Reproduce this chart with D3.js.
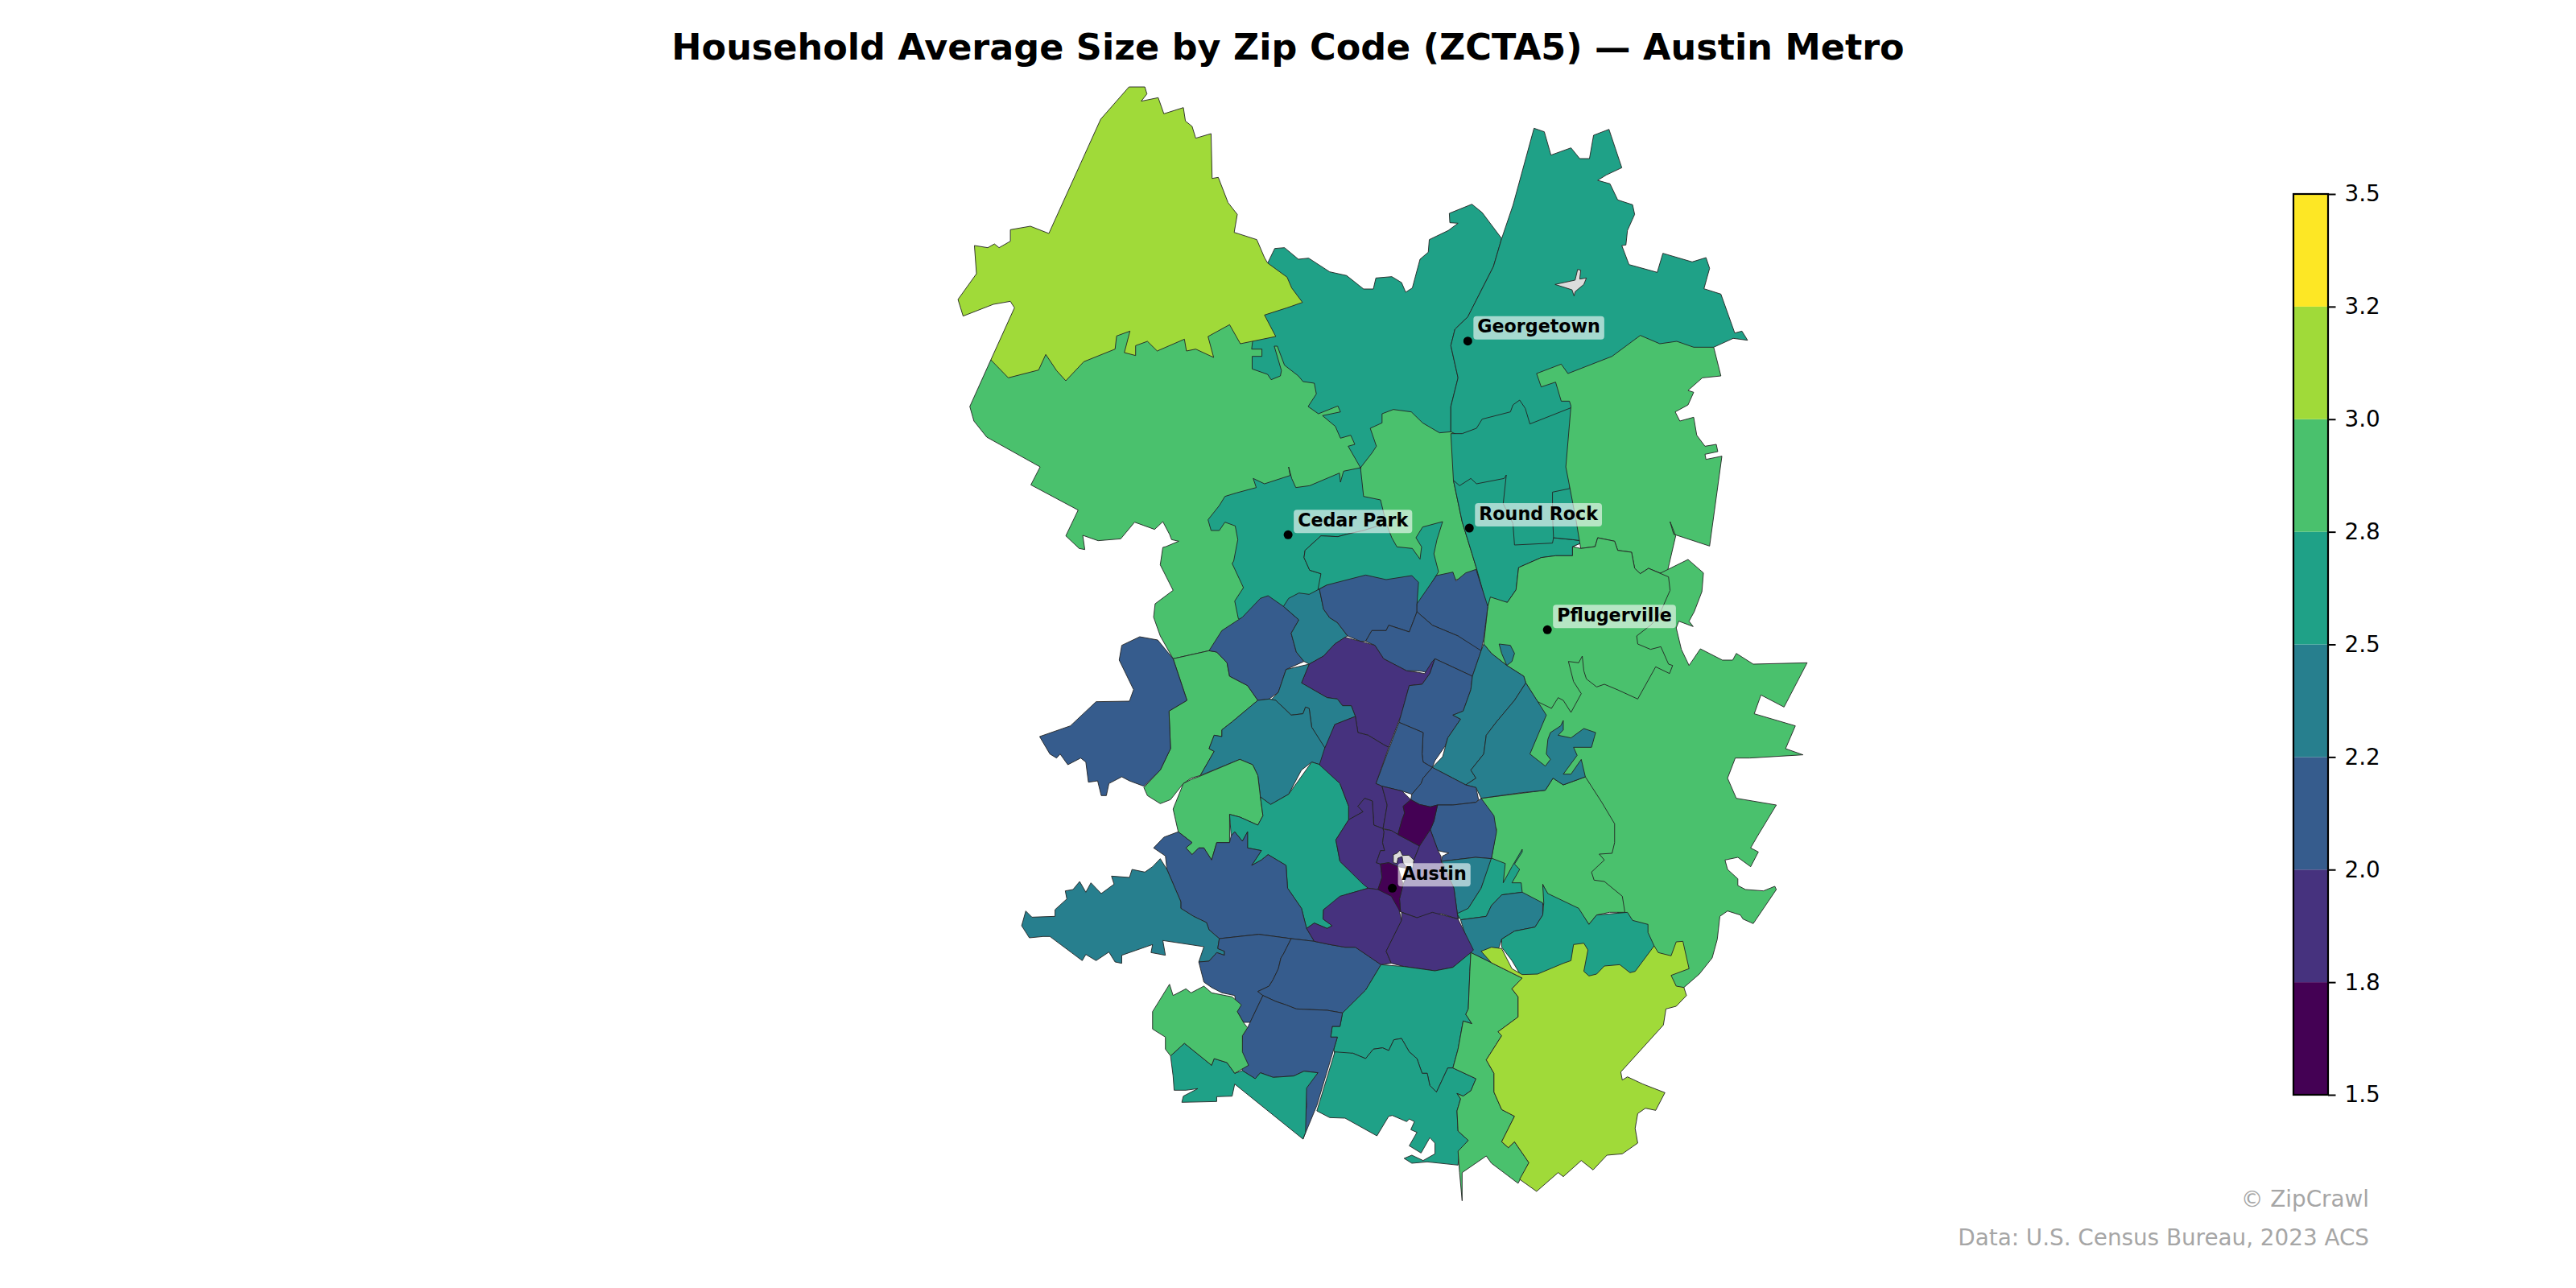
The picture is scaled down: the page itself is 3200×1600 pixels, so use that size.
<!DOCTYPE html>
<html lang="en">
<head>
<meta charset="utf-8">
<title>Household Average Size by Zip Code</title>
<script src="https://d3js.org/d3.v7.min.js"></script>
<style>
    body { margin: 0; background: #fff; }
    text { font-family: "DejaVu Sans", sans-serif; }
</style>
</head>
<body>
<svg id="mainsvg" width="3200" height="1600"></svg>
<script>
// colour bins
const binEdges = [1.5, 1.75, 2, 2.25, 2.5, 2.75, 3, 3.25, 3.5];
const binLabels = ['1.5', '1.8', '2.0', '2.2', '2.5', '2.8', '3.0', '3.2', '3.5'];
const binColors = ['#440154', '#46327e', '#365c8d', '#277f8e', '#1fa187', '#4ac16d', '#a0da39', '#fde725'];

// estimated household size per area, same order as areaRings (null = no data)
const areaSizes = [
    2.88, 2.85, 2.62, 2.64, 2.66, 3.1,
    2.7, 2.65, 2.68, 2.6, 2.85, 2.9, 2.88, 2.86,
    2.82, 2.1, 2.15, 2.4, 2.12, 2.15, 2.1, 1.9, 2.4, 2.35, 2.9, 2.6,
    2.1, 2.4, 2.35, 2.4, 2.1, 2.15, 2.2, 2.35, 2.6, 2.4, 2.62,
    1.9, 1.92, 1.85, 1.9, 1.7, 1.88, 1.65, null,
    2.1, 2.4, 2.1, 2.15, 1.9, 1.88, 2.6, 2.62, 2.15, 2.6, 2.85, 2.88, 3.1, null
];

// area outlines in map units; later areas paint over earlier ones
const areaRings = [
    [[-30,-699],[-71,-525],[-63,-471],[-38,-411],[66,-300],[48,-233],[140,-139],[116,-43],[142,4],[153,8],[149,-45],[179,-25],[223,-32],[250,-94],[289,-67],[305,-96],[318,-49],[322,-29],[336,-23],[311,-3],[305,0],[300,65],[325,160],[290,210],[287,260],[300,330],[325,415],[395,385],[420,330],[470,260],[560,100],[600,-100],[690,-300],[720,-500],[550,-780],[400,-850],[200,-850]],
    [[700,-560],[950,-560],[950,120],[840,120],[700,120],[660,-100],[680,-280],[690,-290],[695,-340]],
    [[506,-1047],[523,-1114],[542,-1117],[569,-1074],[589,-1078],[630,-1027],[663,-1013],[696,-963],[715,-963],[720,-1004],[751,-1009],[770,-987],[778,-951],[791,-967],[806,-1074],[822,-1100],[824,-1147],[861,-1181],[880,-1208],[864,-1210],[863,-1245],[907,-1279],[927,-1248],[965,-1151],[949,-1047],[899,-859],[874,-813],[866,-752],[880,-632],[866,-525],[866,-431],[844,-427],[811,-464],[789,-505],[754,-514],[732,-498],[732,-464],[709,-444],[721,-377],[712,-351],[690,-297],[666,-377],[679,-384],[671,-418],[651,-407],[641,-451],[616,-491],[651,-505],[646,-527],[608,-498],[588,-525],[604,-572],[600,-612],[578,-618],[569,-639],[542,-679],[528,-750],[522,-750],[536,-659],[534,-639],[516,-625],[509,-645],[479,-665],[479,-712],[498,-712],[498,-739],[478,-739],[481,-786],[480,-880],[540,-950]],
    [[690,-297],[657,-284],[651,-243],[649,-277],[591,-230],[564,-223],[556,-257],[550,-300],[553,-268],[503,-237],[481,-257],[487,-223],[448,-203],[426,-190],[415,-156],[393,-103],[399,-63],[415,-63],[426,-94],[446,-80],[451,-29],[443,51],[440,60],[462,150],[445,200],[452,265],[480,300],[560,280],[620,200],[613,98],[591,85],[580,38],[582,11],[613,-43],[646,-40],[663,-49],[696,-63],[740,-90],[729,-177],[696,-190]],
    [[580,38],[582,11],[613,-43],[646,-40],[663,-49],[696,-63],[740,-90],[751,-36],[761,-2],[791,4],[806,44],[809,-2],[798,-36],[811,-76],[850,-96],[839,-29],[833,24],[842,91],[800,220],[700,130],[625,140],[607,158],[613,98],[591,85]],
    [[239,-1716],[270,-1716],[274,-1690],[263,-1663],[296,-1676],[307,-1616],[345,-1639],[349,-1589],[362,-1569],[369,-1525],[399,-1542],[401,-1375],[413,-1379],[432,-1285],[450,-1241],[444,-1174],[488,-1147],[503,-1080],[509,-1060],[547,-1007],[556,-967],[577,-913],[547,-893],[503,-866],[525,-786],[456,-759],[435,-830],[393,-786],[404,-708],[369,-739],[351,-732],[347,-776],[294,-732],[275,-768],[252,-752],[252,-715],[230,-726],[241,-806],[215,-788],[212,-739],[151,-692],[116,-621],[98,-659],[77,-719],[63,-661],[4,-632],[-30,-699],[16,-893],[8,-917],[-25,-906],[-84,-862],[-94,-924],[-58,-1020],[-62,-1125],[-36,-1117],[-23,-1131],[-14,-1117],[8,-1141],[8,-1184],[47,-1197],[83,-1170],[184,-1596]],

    [[1028,-1562],[1048,-1549],[1061,-1462],[1100,-1489],[1117,-1449],[1136,-1449],[1144,-1536],[1174,-1558],[1199,-1415],[1169,-1388],[1152,-1368],[1176,-1355],[1191,-1295],[1220,-1277],[1224,-1241],[1210,-1181],[1207,-1127],[1199,-1125],[1213,-1054],[1268,-1025],[1279,-1096],[1336,-1064],[1363,-1080],[1370,-1040],[1359,-964],[1392,-944],[1419,-799],[1433,-806],[1444,-772],[1416,-779],[1378,-746],[1300,-600],[1150,-500],[1100,-400],[900,-400],[866,-431],[866,-525],[880,-632],[866,-752],[874,-813],[899,-859],[949,-1047],[965,-1151],[987,-1275]],
    [[866,-424],[888,-424],[916,-444],[927,-478],[982,-505],[987,-531],[1000,-549],[1011,-518],[1020,-460],[1114,-531],[1130,-444],[1125,-431],[1132,-377],[1117,-375],[1119,-290],[1100,-250],[1097,-223],[1130,-230],[1139,-177],[1128,-163],[1128,-23],[1103,-3],[1103,31],[1070,31],[1042,38],[998,75],[993,158],[976,205],[945,195],[936,222],[925,140],[916,78],[888,-96],[871,-250]],
    [[871,-250],[883,-230],[905,-257],[916,-237],[970,-257],[974,-270],[968,-163],[987,-89],[990,-9],[1064,-16],[1066,-36],[1103,-29],[1128,-23],[1103,-3],[1103,31],[1070,31],[1042,38],[998,75],[993,158],[976,205],[945,195],[936,222],[925,140],[916,78],[888,-96]],
    [[1064,-206],[1124,-230],[1130,-230],[1139,-177],[1128,-163],[1128,-23],[1103,-29],[1066,-36],[1064,-120]],
    [[1033,-648],[1081,-683],[1094,-648],[1180,-712],[1235,-790],[1273,-759],[1306,-768],[1339,-746],[1378,-746],[1392,-639],[1356,-632],[1328,-585],[1339,-578],[1328,-531],[1303,-505],[1312,-471],[1339,-485],[1345,-418],[1361,-377],[1383,-384],[1386,-357],[1361,-347],[1363,-328],[1394,-340],[1370,-5],[1300,-49],[1293,-96],[1304,-43],[1286,105],[1251,78],[1235,98],[1224,78],[1218,18],[1191,11],[1185,-23],[1152,-36],[1147,-3],[1119,4],[1110,-100],[1090,-300],[1100,-527],[1097,-545],[1081,-545],[1070,-616],[1042,-598]],
    [[1270,100],[1328,45],[1358,95],[1355,165],[1340,240],[1330,275],[1338,295],[1310,275],[1305,300],[1315,380],[1330,440],[1352,378],[1395,420],[1415,420],[1422,395],[1455,435],[1560,430],[1515,595],[1470,550],[1457,620],[1537,665],[1518,750],[1552,773],[1448,785],[1420,785],[1405,860],[1422,935],[1500,960],[1462,1080],[1450,1120],[1465,1135],[1450,1190],[1425,1155],[1400,1165],[1405,1200],[1425,1235],[1425,1260],[1440,1275],[1475,1280],[1497,1263],[1500,1275],[1455,1402],[1435,1385],[1430,1370],[1405,1355],[1390,1375],[1385,1460],[1375,1530],[1350,1590],[1320,1640],[1300,1650],[1280,1550],[1240,1420],[1205,1385],[1130,1250],[1100,1100],[1040,950],[1000,800],[1000,600],[1060,520],[1090,400]],
    [[943,185],[976,205],[993,158],[998,75],[1042,38],[1070,31],[1103,31],[1103,-3],[1119,4],[1147,-3],[1152,-36],[1185,-23],[1191,11],[1218,18],[1224,78],[1235,98],[1251,78],[1290,110],[1293,160],[1270,260],[1255,290],[1228,330],[1230,360],[1255,380],[1275,370],[1290,435],[1298,440],[1292,470],[1265,445],[1230,565],[1190,530],[1165,510],[1150,520],[1130,490],[1125,460],[1122,405],[1115,430],[1095,425],[1105,500],[1120,545],[1100,615],[1085,570],[1075,560],[1062,600],[1035,575],[1012,505],[1008,480],[975,440],[945,395],[930,360],[938,220]],
    [[925,935],[1050,905],[1065,860],[1085,885],[1128,855],[1160,950],[1185,1030],[1185,1100],[1180,1140],[1155,1143],[1165,1165],[1140,1210],[1145,1240],[1165,1245],[1200,1300],[1205,1360],[1175,1360],[1150,1370],[1135,1405],[1115,1350],[1055,1295],[1045,1255],[1050,1330],[1020,1330],[1000,1310],[960,1295],[945,1160],[955,1050]],

    [[325,415],[395,385],[410,390],[430,430],[435,480],[470,515],[490,570],[440,650],[420,680],[420,705],[405,700],[395,750],[405,760],[378,850],[360,860],[345,880],[320,940],[300,955],[275,925],[268,895],[300,830],[320,750],[317,610],[352,570]],
    [[325,415],[352,570],[317,610],[320,750],[300,830],[268,890],[240,870],[225,855],[200,880],[195,925],[185,925],[178,870],[160,875],[155,800],[145,785],[120,810],[105,770],[98,785],[85,770],[65,705],[125,665],[175,575],[240,573],[248,530],[220,420],[225,365],[260,333],[295,345]],
    [[510,180],[540,220],[570,270],[555,320],[565,390],[580,425],[545,455],[530,540],[512,565],[490,570],[470,515],[435,480],[430,430],[410,390],[395,385],[420,310],[460,260],[495,190]],
    [[540,220],[550,190],[570,170],[590,175],[610,155],[618,230],[630,262],[645,280],[665,330],[660,335],[640,360],[618,405],[590,435],[580,425],[565,390],[555,320],[570,270]],
    [[610,155],[625,140],[700,103],[740,120],[790,105],[803,130],[800,210],[800,240],[785,315],[770,305],[745,290],[740,310],[712,310],[700,350],[690,350],[665,330],[645,280],[630,262],[618,230]],
    [[800,210],[838,105],[870,92],[876,125],[895,95],[915,82],[938,220],[930,340],[925,385],[908,370],[880,330],[830,290],[800,240]],
    [[700,350],[712,310],[740,310],[745,290],[785,315],[800,240],[830,290],[880,330],[925,385],[908,480],[835,415],[828,470],[810,462],[800,460],[780,460],[735,415],[718,365]],
    [[660,335],[690,350],[718,365],[735,415],[780,460],[800,465],[815,470],[830,425],[835,415],[825,470],[810,510],[785,515],[770,620],[745,745],[735,735],[705,700],[685,690],[680,630],[672,590],[655,590],[645,565],[625,560],[575,505],[590,435],[618,405],[640,360]],
    [[545,455],[590,435],[575,505],[625,560],[645,565],[655,590],[672,590],[680,630],[640,660],[622,755],[595,670],[590,600],[583,595],[578,620],[555,625],[525,570],[510,580],[530,540]],
    [[490,570],[512,565],[525,570],[555,625],[578,620],[583,595],[590,600],[595,670],[625,760],[612,810],[595,800],[575,830],[550,920],[515,958],[495,930],[490,850],[480,810],[455,790],[378,850],[405,760],[395,750],[405,700],[420,705],[420,680],[440,650]],
    [[360,865],[378,852],[455,790],[480,810],[490,850],[495,930],[500,1000],[490,1035],[455,1005],[435,995],[435,1100],[410,1100],[400,1165],[385,1120],[375,1120],[362,1145],[350,1120],[362,1100],[335,1060],[325,975],[345,880]],
    [[595,800],[612,810],[650,880],[667,965],[667,1015],[642,1090],[650,1170],[705,1270],[660,1295],[618,1350],[617,1385],[635,1410],[625,1420],[600,1400],[585,1420],[575,1345],[548,1270],[545,1185],[510,1145],[497,1165],[478,1185],[497,1130],[470,1120],[470,1060],[460,1095],[445,1060],[438,1075],[435,995],[455,1005],[490,1035],[500,1000],[495,930],[515,958],[550,920]],

    [[835,415],[908,480],[905,530],[890,610],[870,625],[885,640],[860,710],[855,740],[835,795],[830,820],[812,800],[810,770],[812,690],[765,652],[785,515],[810,510],[825,470]],
    [[925,385],[930,360],[945,395],[975,440],[1008,480],[1012,505],[990,570],[955,650],[935,700],[930,770],[905,830],[915,860],[895,885],[870,860],[830,820],[850,780],[860,710],[885,640],[870,625],[890,610],[905,530],[908,480]],
    [[1012,505],[1052,625],[1020,770],[1050,815],[1060,790],[1052,770],[1055,715],[1060,690],[1080,665],[1085,645],[1085,680],[1075,700],[1100,710],[1125,675],[1148,690],[1140,745],[1105,745],[1112,775],[1085,845],[1100,845],[1120,790],[1128,855],[1085,885],[1065,860],[1050,905],[1000,915],[925,935],[915,895],[895,885],[915,860],[905,830],[930,770],[935,700],[955,650],[990,570]],
    [[960,360],[982,365],[990,395],[985,425],[975,440],[965,395]],
    [[720,880],[765,652],[812,690],[810,770],[812,800],[830,820],[812,860],[808,880],[790,920],[771,908],[732,890]],
    [[830,820],[870,860],[895,885],[915,895],[920,940],[915,950],[870,960],[840,960],[826,967],[805,958],[788,940],[790,920],[808,880],[812,860]],
    [[840,960],[870,960],[915,950],[925,935],[950,1000],[955,1060],[945,1160],[914,1155],[847,1170],[850,1150],[862,1139],[841,1130],[826,1052],[833,1020]],
    [[847,1170],[914,1155],[946,1160],[925,1270],[900,1345],[880,1385],[872,1270],[850,1175]],
    [[945,1158],[972,1178],[968,1250],[985,1190],[1005,1125],[1005,1135],[990,1180],[1000,1200],[985,1250],[1003,1250],[1005,1285],[965,1295],[945,1335],[935,1375],[885,1388],[878,1365],[900,1345],[925,1270]],
    [[885,1388],[935,1375],[945,1335],[965,1295],[1005,1285],[1045,1325],[1045,1370],[1030,1415],[990,1430],[965,1460],[960,1490],[945,1548],[905,1510]],
    [[965,1490],[965,1460],[990,1430],[1030,1415],[1045,1370],[1047,1325],[1045,1258],[1055,1290],[1115,1345],[1135,1405],[1150,1370],[1210,1360],[1220,1390],[1250,1405],[1250,1435],[1262,1485],[1230,1600],[1010,1620],[985,1540]],

    [[680,630],[640,660],[620,750],[610,810],[650,880],[667,965],[667,1015],[695,985],[685,965],[698,935],[713,945],[716,1035],[734,1048],[742,960],[732,890],[720,880],[745,745],[735,735],[705,700],[685,690]],
    [[667,1015],[642,1090],[650,1170],[695,1255],[705,1270],[724,1275],[732,1230],[729,1180],[721,1175],[729,1130],[737,1130],[733,1100],[736,1060],[734,1048],[716,1035],[713,945],[698,935],[685,965],[695,985]],
    [[732,890],[771,908],[788,940],[773,965],[776,990],[771,1015],[763,1070],[750,1055],[734,1048],[742,960]],
    [[734,1050],[750,1055],[763,1070],[805,1113],[794,1165],[792,1200],[763,1190],[745,1175],[729,1180],[721,1175],[729,1130],[737,1130],[733,1100],[736,1060]],
    [[788,940],[805,958],[826,967],[840,960],[833,1020],[826,1052],[805,1113],[763,1070],[771,1015],[776,990],[773,965]],
    [[826,1052],[841,1130],[847,1152],[847,1170],[872,1270],[880,1385],[847,1365],[800,1380],[768,1358],[766,1310],[773,1255],[794,1165],[805,1113]],
    [[729,1180],[745,1175],[763,1190],[773,1255],[766,1310],[768,1358],[758,1345],[750,1310],[724,1275],[732,1230]],
    [[754,1145],[754,1175],[761,1178],[763,1158],[771,1152],[773,1175],[779,1190],[792,1195],[794,1165],[784,1147],[772,1148],[767,1128],[761,1140]],

    [[335,1060],[362,1100],[350,1120],[362,1145],[375,1120],[385,1120],[400,1165],[410,1100],[435,1100],[438,1075],[445,1060],[460,1095],[470,1060],[470,1120],[497,1130],[478,1185],[497,1165],[510,1145],[545,1185],[548,1270],[575,1345],[585,1420],[600,1468],[555,1458],[492,1442],[415,1458],[395,1425],[390,1398],[365,1375],[340,1345],[340,1320],[313,1200],[310,1150],[287,1120],[307,1080]],
    [[313,1200],[300,1160],[285,1190],[270,1210],[245,1200],[240,1230],[205,1225],[210,1255],[185,1290],[165,1250],[155,1285],[143,1245],[130,1275],[115,1280],[118,1310],[95,1350],[95,1375],[50,1378],[38,1355],[30,1410],[45,1455],[72,1450],[85,1450],[148,1540],[155,1517],[175,1540],[200,1508],[212,1545],[225,1550],[225,1520],[285,1480],[282,1510],[310,1520],[305,1465],[385,1488],[375,1545],[395,1542],[410,1510],[425,1520],[425,1505],[412,1495],[415,1458],[395,1425],[390,1398],[365,1375],[340,1345],[340,1320]],
    [[415,1458],[492,1442],[555,1458],[540,1515],[535,1530],[530,1570],[520,1610],[512,1635],[490,1655],[500,1670],[475,1770],[462,1770],[450,1730],[445,1670],[420,1660],[400,1640],[385,1620],[375,1545],[395,1542],[410,1510],[425,1520],[425,1505],[412,1495]],
    [[555,1458],[600,1468],[630,1480],[660,1490],[680,1490],[730,1555],[700,1650],[655,1735],[625,1725],[565,1720],[545,1705],[525,1692],[500,1670],[490,1655],[512,1635],[520,1610],[530,1570],[535,1530],[540,1515]],
    [[600,1400],[625,1420],[635,1410],[617,1385],[618,1350],[650,1300],[705,1270],[724,1275],[750,1300],[765,1350],[770,1390],[740,1505],[750,1550],[730,1555],[680,1490],[660,1490],[630,1480],[600,1468],[585,1420]],
    [[770,1360],[800,1380],[830,1360],[880,1385],[910,1500],[905,1510],[870,1565],[835,1578],[775,1562],[750,1550],[740,1505],[770,1390]],
    [[730,1555],[775,1562],[835,1578],[870,1565],[905,1510],[903,1580],[900,1720],[895,1740],[907,1775],[890,1765],[880,1870],[870,1940],[860,1940],[838,2030],[825,2005],[820,1960],[810,1960],[800,1905],[785,1880],[770,1830],[755,1835],[745,1875],[733,1865],[715,1870],[700,1905],[675,1885],[640,1890],[638,1870],[645,1825],[632,1825],[635,1785],[650,1785],[655,1735],[700,1650]],
    [[640,1880],[675,1885],[700,1905],[715,1870],[733,1865],[745,1875],[755,1835],[770,1830],[785,1880],[800,1905],[810,1960],[820,1960],[825,2005],[838,2030],[860,1940],[870,1940],[915,1980],[905,2025],[890,2045],[878,2035],[885,2055],[878,2100],[880,2175],[900,2210],[882,2250],[880,2302],[820,2290],[790,2295],[775,2277],[790,2265],[812,2285],[835,2260],[835,2220],[825,2200],[808,2257],[785,2230],[800,2180],[788,2170],[795,2140],[785,2130],[780,2140],[752,2117],[745,2120],[722,2193],[660,2127],[630,2125],[605,2100]],
    [[500,1670],[525,1692],[545,1705],[565,1720],[625,1725],[655,1735],[650,1785],[635,1785],[632,1825],[645,1825],[638,1870],[605,2080],[578,2205],[585,2080],[583,2015],[607,1958],[580,1952],[560,1970],[520,1975],[495,1958],[485,1980],[460,1950],[457,1880],[460,1820],[470,1790],[475,1770]],
    [[347,1848],[400,1930],[405,1905],[430,1920],[445,1960],[460,1950],[485,1980],[495,1958],[520,1975],[560,1970],[580,1952],[607,1958],[585,2015],[583,2180],[578,2205],[445,2000],[440,2045],[410,2047],[410,2065],[342,2068],[345,2045],[373,2017],[350,2023],[327,2023],[325,1970],[320,1895]],
    [[318,1628],[325,1670],[350,1645],[360,1660],[385,1635],[400,1660],[440,1675],[458,1705],[450,1730],[462,1770],[470,1790],[460,1820],[460,1880],[472,1930],[445,1960],[430,1920],[405,1905],[400,1930],[347,1848],[320,1895],[310,1870],[310,1825],[285,1795],[285,1730]],
    [[905,1510],[1005,1605],[985,1645],[997,1675],[997,1750],[958,1805],[965,1820],[935,1910],[950,1960],[950,2030],[965,2095],[990,2120],[965,2215],[978,2237],[990,2215],[1018,2293],[997,2370],[945,2295],[935,2268],[888,2330],[888,2435],[883,2330],[880,2250],[900,2210],[880,2175],[878,2100],[885,2055],[878,2035],[890,2045],[905,2025],[915,1980],[870,1940],[880,1870],[890,1765],[907,1775],[895,1740],[900,1720],[903,1580]],
    [[925,1505],[945,1490],[965,1495],[985,1570],[1005,1592],[1035,1590],[1085,1550],[1100,1540],[1105,1480],[1125,1475],[1133,1500],[1125,1580],[1135,1597],[1150,1590],[1165,1560],[1195,1555],[1215,1585],[1225,1580],[1262,1485],[1270,1510],[1295,1522],[1305,1470],[1318,1468],[1330,1570],[1295,1595],[1305,1635],[1320,1640],[1325,1670],[1305,1710],[1285,1720],[1280,1780],[1197,1955],[1200,1985],[1210,1973],[1240,2000],[1283,2032],[1265,2098],[1245,2090],[1230,2110],[1225,2165],[1230,2220],[1200,2260],[1170,2265],[1143,2320],[1120,2285],[1085,2345],[1075,2330],[1033,2400],[1000,2355],[1018,2293],[990,2215],[978,2237],[965,2215],[990,2120],[965,2095],[950,2030],[950,1960],[935,1910],[965,1820],[958,1805],[997,1750],[997,1675],[985,1645],[1005,1605],[945,1548]],
    [[1069,-980],[1108,-996],[1113,-1036],[1119,-1033],[1117,-1000],[1130,-1004],[1125,-980],[1108,-953],[1106,-937],[1102,-960]]
];

// cities, in the same map units
const cityNames = ['Georgetown', 'Cedar Park', 'Round Rock', 'Pflugerville', 'Austin'];
const cityX = [899, 549, 902, 1054, 752];
const cityY = [-769, -47, -72, 307, 1270];

const titleText = 'Household Average Size by Zip Code (ZCTA5) \u2014 Austin Metro';
const creditLines = ['\u00a9 ZipCrawl', 'Data: U.S. Census Bureau, 2023 ACS'];

const svg = d3.select('#mainsvg');
svg.append('rect').attr('width', 3200).attr('height', 1600).attr('fill', '#fff');

// map units to page pixels
const xMap = d3.scaleLinear().domain([0, 1568]).range([1250, 2250]);
const yMap = d3.scaleLinear().domain([0, 1500]).range([680, 1180]);
const projection = d3.geoTransform({
    point: function (x, y) { this.stream.point(xMap(x), yMap(y)); }
});
const path = d3.geoPath(projection);

const color = d3.scaleThreshold().domain(binEdges.slice(1, -1)).range(binColors);

const areas = areaRings.map((ring, i) => ({
    type: 'Polygon',
    coordinates: [ring.concat([ring[0]])],
    size: areaSizes[i]
}));

svg.append('g').selectAll('path')
    .data(areas)
    .join('path')
    .attr('d', path)
    .attr('fill', d => d.size === null ? '#dcdcdc' : color(d.size))
    .attr('stroke', '#222')
    .attr('stroke-width', 0.9)
    .attr('stroke-linejoin', 'round');

// city markers and labels
const cities = svg.append('g').selectAll('g')
    .data(cityNames)
    .join('g')
    .attr('transform', (d, i) => `translate(${xMap(cityX[i])},${yMap(cityY[i])})`);

cities.append('circle').attr('r', 5.5).attr('fill', '#000');

const cityBoxes = cities.append('rect')
    .attr('fill', '#fff')
    .attr('fill-opacity', 0.6)
    .attr('rx', 4);

const cityLabels = cities.append('text')
    .attr('x', 12)
    .attr('y', -10.5)
    .attr('font-size', 22.2)
    .attr('font-weight', 'bold')
    .attr('fill', '#000')
    .text(d => d);

cityBoxes.each(function (d, i) {
    const w = cityLabels.nodes()[i].getComputedTextLength();
    d3.select(this).attr('x', 7).attr('y', -31).attr('width', w + 10).attr('height', 29);
});

// title
svg.append('text')
    .attr('x', 1600)
    .attr('y', 74)
    .attr('text-anchor', 'middle')
    .attr('font-size', 44.5)
    .attr('font-weight', 'bold')
    .attr('fill', '#000')
    .text(titleText);

// colour bar
const barScale = d3.scaleLinear().domain([1.5, 3.5]).range([1360, 241]);
const bar = svg.append('g');
bar.selectAll('rect')
    .data(binColors)
    .join('rect')
    .attr('x', 2849)
    .attr('width', 43)
    .attr('y', (d, i) => barScale(binEdges[i + 1]))
    .attr('height', (d, i) => barScale(binEdges[i]) - barScale(binEdges[i + 1]))
    .attr('fill', d => d);

const barAxis = d3.axisRight(barScale)
    .tickValues(binEdges)
    .tickFormat((d, i) => binLabels[i])
    .tickSize(9.5)
    .tickPadding(11);

const barAxisGroup = svg.append('g')
    .attr('transform', 'translate(2892,0)')
    .call(barAxis);
barAxisGroup.select('.domain').remove();
barAxisGroup.selectAll('line').attr('stroke', '#000').attr('stroke-width', 2);
barAxisGroup.selectAll('text')
    .attr('font-size', 27.8)
    .attr('font-family', '"DejaVu Sans"')
    .attr('fill', '#000');

svg.append('rect')
    .attr('x', 2849)
    .attr('y', 241)
    .attr('width', 43)
    .attr('height', 1119)
    .attr('fill', 'none')
    .attr('stroke', '#000')
    .attr('stroke-width', 2.2);

// credits
svg.append('g').selectAll('text')
    .data(creditLines)
    .join('text')
    .attr('x', 2943)
    .attr('y', (d, i) => 1499 + i * 48)
    .attr('text-anchor', 'end')
    .attr('font-size', 27.8)
    .attr('fill', '#a6a6a6')
    .text(d => d);
</script>
</body>
</html>
